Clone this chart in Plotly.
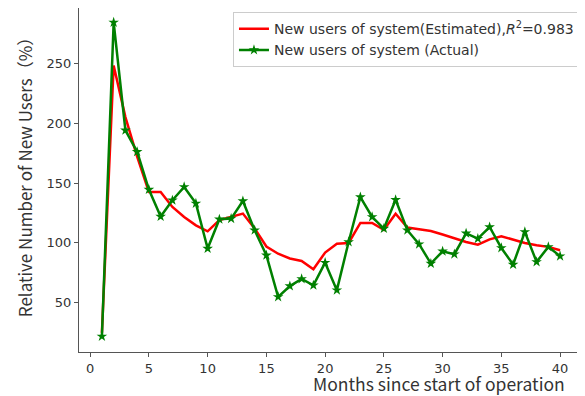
import plotly.graph_objects as go

months = list(range(1, 41))
actual = [22, 284, 194, 176, 144.5, 122, 135.6, 146.7, 133, 95.3,
          119.7, 120.3, 135, 110.6, 89.7, 55, 64, 70, 64.7, 83.5,
          60.6, 100.8, 138.3, 121.7, 112, 136, 110.6, 99, 82.8, 93,
          90.6, 108, 103.6, 113.3, 95.8, 82, 109.2, 84.2, 96.7, 89]
estimated = [25, 248, 205, 172, 142.5, 142.5, 130, 121.7, 114.7, 109.7,
             119, 121.7, 124.5, 112, 97, 91, 87, 85, 78, 92,
             99.4, 100, 116.7, 116.7, 111, 124.4, 112.8, 111.4, 110, 107,
             104, 100.8, 98.6, 103, 105.6, 102.8, 100, 98, 96.7, 93.9]
x_ticks = [0, 5, 10, 15, 20, 25, 30, 35, 40]
y_ticks = [50, 100, 150, 200, 250]

fig = go.Figure()
fig.add_trace(go.Scatter(
    x=months, y=estimated, mode="lines",
    line=dict(color="#ff0000", width=2.5),
    name="New users of system(Estimated),<i>R</i><sup>2</sup>=0.983"))
fig.add_trace(go.Scatter(
    x=months, y=actual, mode="lines+markers",
    line=dict(color="#008000", width=2.5),
    marker=dict(symbol="star", size=8, color="#008000"),
    name="New users of system (Actual)"))

axis_common = dict(showgrid=False, zeroline=False, showline=True, mirror=True,
                   linecolor="#555", linewidth=1, ticks="outside", ticklen=4,
                   tickcolor="#555", tickfont=dict(family="DejaVu Sans", size=13, color="#333"))
fig.update_xaxes(range=[-0.95, 41.95], tickvals=x_ticks, **axis_common)
fig.update_yaxes(range=[9, 296], tickvals=y_ticks, **axis_common)

fig.update_layout(
    width=577, height=388,
    margin=dict(l=71, r=2, t=0, b=44),
    plot_bgcolor="white", paper_bgcolor="white",
    legend=dict(x=0.994, y=0.988, xanchor="right", yanchor="top",
                bgcolor="white", bordercolor="#ccc", borderwidth=1,
                font=dict(family="DejaVu Sans", size=14, color="#333"),
                tracegroupgap=0, itemwidth=30),
    annotations=[
        dict(text="Months since start of operation", xref="paper", yref="paper",
             x=0.968, y=-0.093, xanchor="right", yanchor="middle", showarrow=False,
             font=dict(family="Noto Sans CJK JP", size=17.5, color="#333")),
        dict(text="Relative Number of New Users（%）", xref="paper", yref="paper",
             x=-0.109, y=0.52, xanchor="center", yanchor="middle", showarrow=False,
             textangle=-90, font=dict(family="Noto Sans CJK JP", size=17, color="#333")),
    ],
)

fig.write_html("out.html")
